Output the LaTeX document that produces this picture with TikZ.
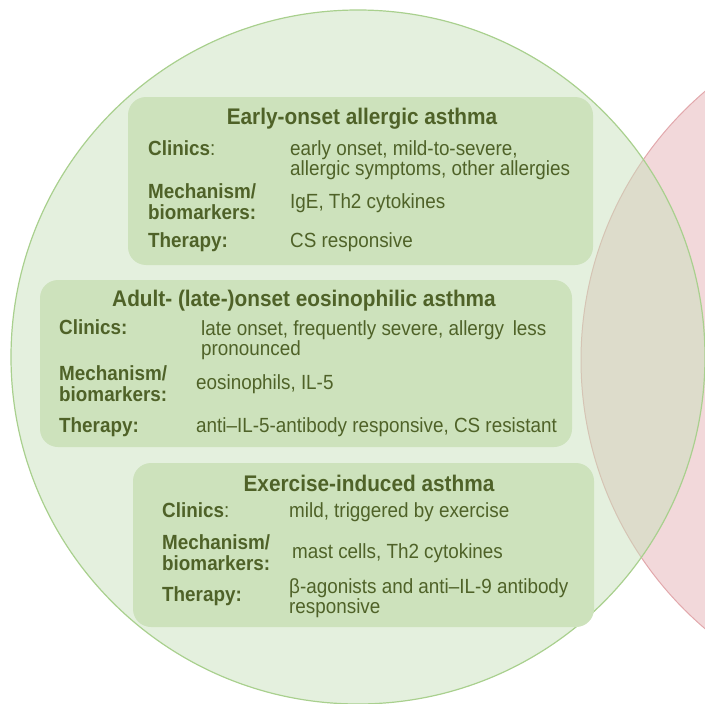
\documentclass[tikz,border=0pt]{standalone}
\usepackage{fontspec}
\setmainfont{Liberation Sans}[FakeStretch=0.92]
\definecolor{asthmagreen}{HTML}{C9E1BD}
\definecolor{asthmaline}{HTML}{A9D08E}
\definecolor{asthmabox}{HTML}{CDE2BC}
\definecolor{asthmapink}{HTML}{F2D8DA}
\definecolor{asthmapinkline}{HTML}{E2A8AC}
\definecolor{asthmatext}{HTML}{4F6228}

\begin{document}
\begin{tikzpicture}[x=1pt, y=-1pt,
    panel/.style={rectangle, rounded corners=18pt, fill=asthmabox, draw=none},
    heading/.style={anchor=base, inner sep=0pt, text=asthmatext, font=\fontsize{22.6}{23}\selectfont\bfseries},
    rowhead/.style={anchor=base west, inner sep=0pt, align=left, text=asthmatext, font=\fontsize{20.5}{21}\selectfont\bfseries},
    rowtext/.style={anchor=base west, inner sep=0pt, align=left, text=asthmatext, font=\fontsize{20.5}{20}\selectfont}]
    \useasboundingbox (0,0) rectangle (705,704);
    \clip (0,0) rectangle (705,704);

    % Circles
    \draw[asthmapinkline, fill=asthmapink, line width=1pt] (934,360) circle[radius=353pt];
    \draw[asthmaline, fill=asthmagreen, fill opacity=0.5, line width=1.2pt] (358,357) circle[radius=347pt];

    % Early-onset box (multi-line texts sit on their last line)
    \node[panel, minimum width=465pt, minimum height=168pt] (early) at (360.5,181) {};
    \node[heading] (earlytitle) at (362,124) {Early-onset allergic asthma};
    \node[rowhead] (earlyclin) at (148,155) {\textbf{Clinics}\mdseries:};
    \node[rowtext] (earlyclintext) at (290,175) {early onset, mild-to-severe,\\allergic symptoms, other allergies};
    \node[rowhead] (earlymech) at (148,219) {Mechanism/\\biomarkers:};
    \node[rowtext] (earlymechtext) at (290,208) {IgE, Th2 cytokines};
    \node[rowhead] (earlyther) at (148,247) {Therapy:};
    \node[rowtext] (earlythertext) at (290,247) {CS responsive};

    % Adult-onset box
    \node[panel, minimum width=532pt, minimum height=167pt] (adult) at (306,363.5) {};
    \node[heading] (adulttitle) at (304,306) {Adult- (late-)onset eosinophilic asthma};
    \node[rowhead] (adultclin) at (59,334) {Clinics:};
    \node[rowtext] (adultclintext) at (201,355) {late onset, frequently severe, allergy\, less\\pronounced};
    \node[rowhead] (adultmech) at (59,401) {Mechanism/\\biomarkers:};
    \node[rowtext] (adultmechtext) at (196,389) {eosinophils, IL-5};
    \node[rowhead] (adultther) at (59,432) {Therapy:};
    \node[rowtext] (adultthertext) at (196,432) {anti–IL-5-antibody responsive, CS resistant};

    % Exercise-induced box
    \node[panel, minimum width=461pt, minimum height=164pt] (exercise) at (363.5,545) {};
    \node[heading] (exercisetitle) at (369,491) {Exercise-induced asthma};
    \node[rowhead] (exerciseclin) at (162,517) {\textbf{Clinics}\mdseries:};
    \node[rowtext] (exerciseclintext) at (289,517) {mild, triggered by exercise};
    \node[rowhead] (exercisemech) at (162,570) {Mechanism/\\biomarkers:};
    \node[rowtext] (exercisemechtext) at (292,558) {mast cells, Th2 cytokines};
    \node[rowhead] (exercisether) at (162,601) {Therapy:};
    \node[rowtext] (exercisethertext) at (289,613) {β-agonists and anti–IL-9 antibody\\responsive};
\end{tikzpicture}
\end{document}
